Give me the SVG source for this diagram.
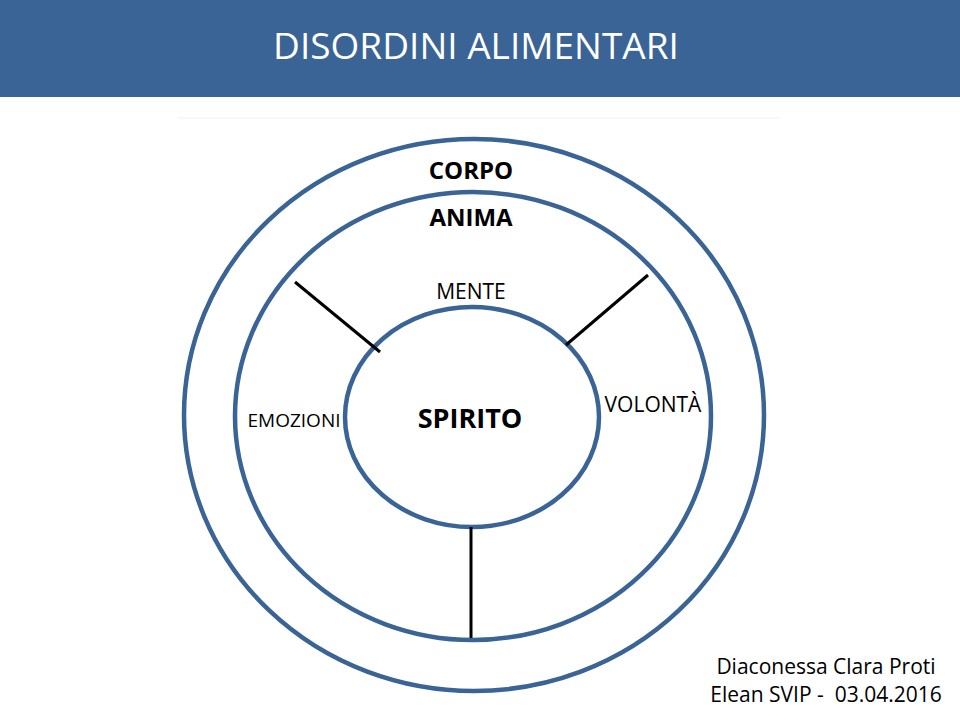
<svg xmlns="http://www.w3.org/2000/svg" width="960" height="720" viewBox="0 0 960 720">
<style>
.ring{fill:none;stroke:#3a6396;stroke-width:4.5}
.sp{stroke:#000;stroke-width:3}
text{font-family:"Open Sans","Liberation Sans",sans-serif;text-anchor:middle;fill:#000}
.b{font-weight:bold}
</style>
<rect width="960" height="720" fill="#fff"/>
<rect width="960" height="97" fill="#3a6396"/>
<text x="476" y="59" font-size="37" style="fill:#fff">DISORDINI ALIMENTARI</text>
<line x1="178" y1="118" x2="780" y2="118" stroke="#f2f2f2" stroke-width="1"/>
<g id="corpo"><ellipse class="ring" cx="474" cy="415" rx="290" ry="276"/><text class="b" x="471" y="179" font-size="24">CORPO</text></g>
<g id="anima"><ellipse class="ring" cx="473" cy="416" rx="238" ry="224"/><text class="b" x="471" y="226" font-size="24">ANIMA</text></g>
<g id="spirito"><ellipse class="ring" cx="472" cy="417" rx="127" ry="110"/><text class="b" x="470" y="428" font-size="27">SPIRITO</text></g>
<g id="connectors">
<line class="sp" x1="295" y1="282" x2="380" y2="352"/>
<line class="sp" x1="648" y1="275" x2="566" y2="345"/>
<line class="sp" x1="471" y1="527" x2="471" y2="638"/>
</g>
<g id="mente"><text x="471" y="299" font-size="21">MENTE</text></g>
<g id="emozioni"><text x="294" y="427" font-size="19">EMOZIONI</text></g>
<g id="volonta"><text x="653" y="412" font-size="21">VOLONTÀ</text></g>
<text x="826" y="674" font-size="21">Diaconessa Clara Proti</text>
<text x="826" y="702" font-size="21" xml:space="preserve">Elean SVIP -  03.04.2016</text>
</svg>
